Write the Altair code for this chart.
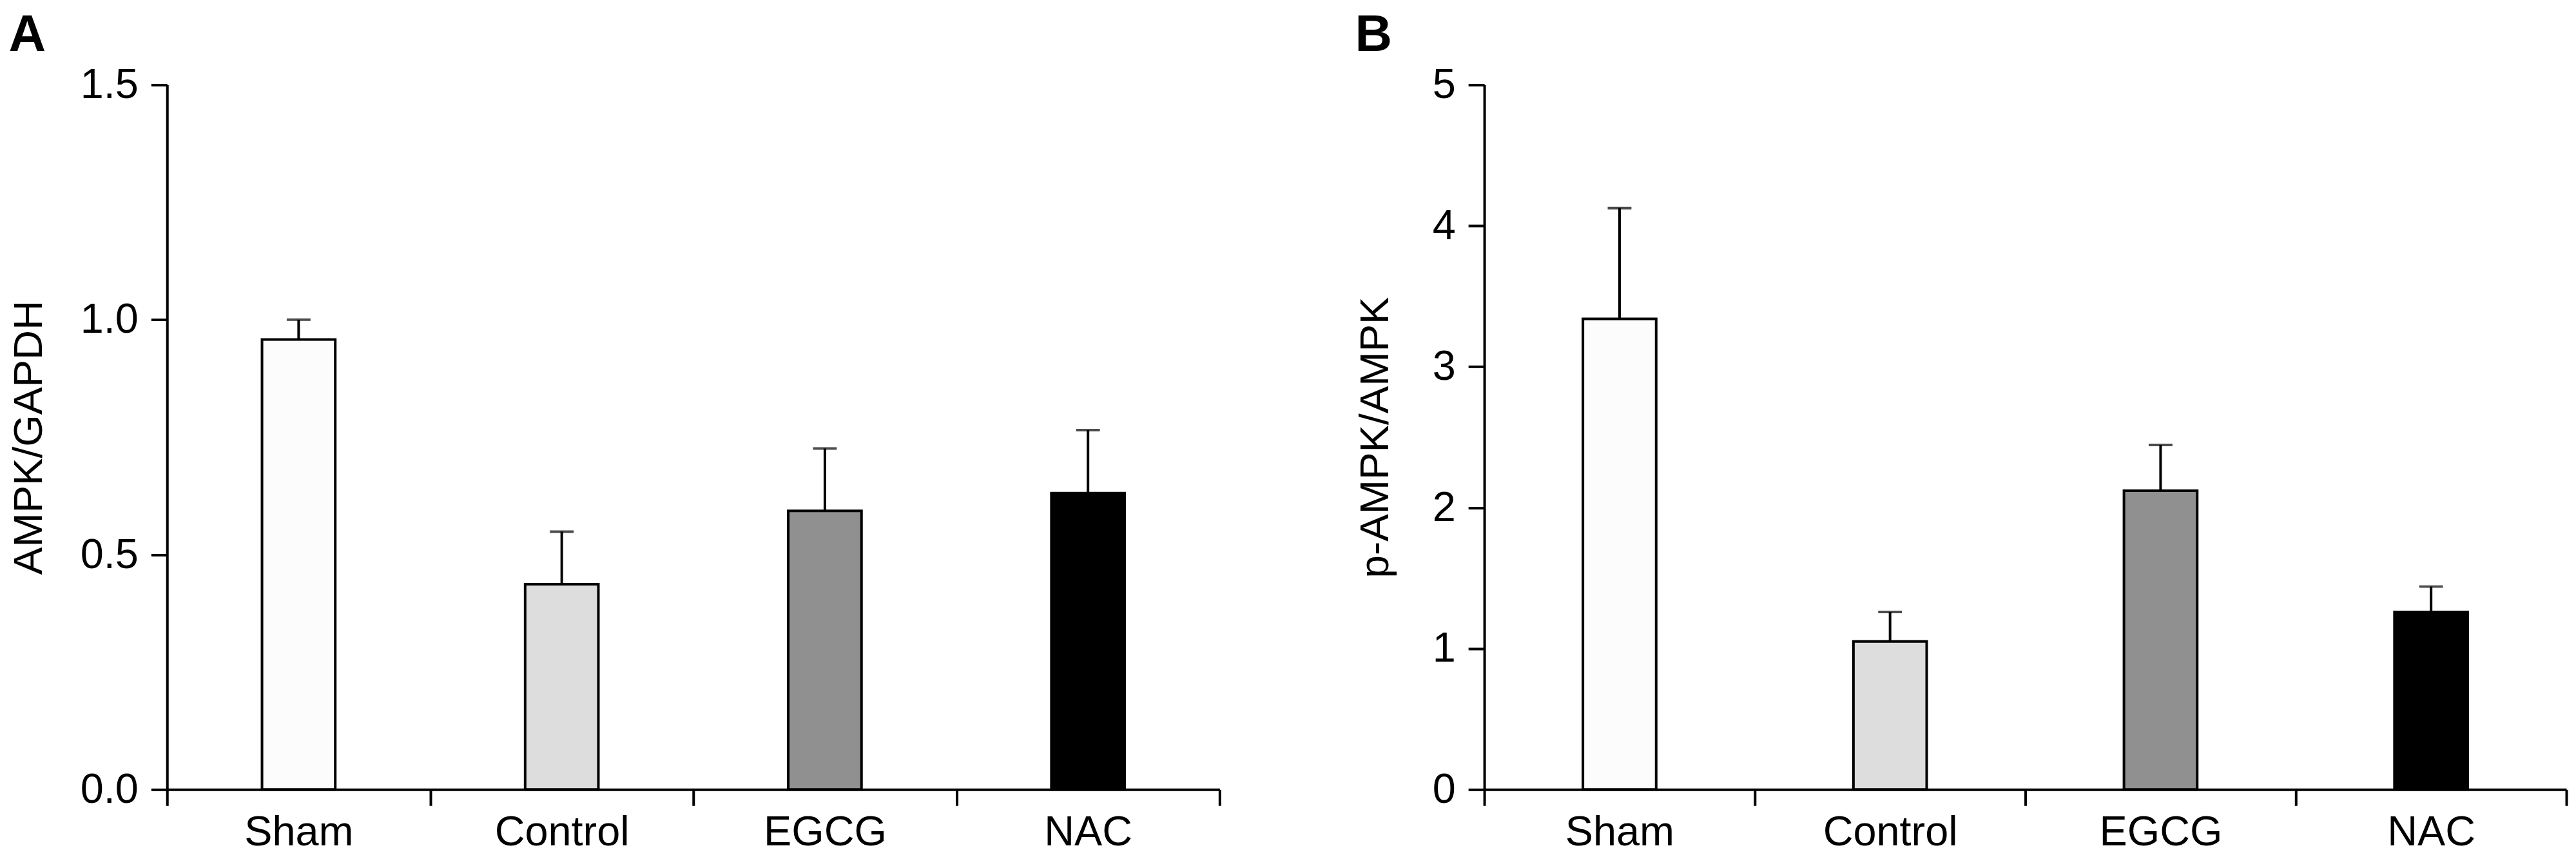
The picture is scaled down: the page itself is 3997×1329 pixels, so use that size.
import altair as alt
import pandas as pd

groups = ["Sham", "Control", "EGCG", "NAC"]
fills = ["#fcfcfc", "#dddddd", "#909090", "#000000"]

ampk_mean = [0.958, 0.437, 0.593, 0.631]
ampk_err = [0.042, 0.112, 0.133, 0.134]

pampk_mean = [3.34, 1.05, 2.12, 1.26]
pampk_err = [0.785, 0.21, 0.325, 0.18]

ticks_a = [0, 0.5, 1.0, 1.5]
ticks_b = [0, 1, 2, 3, 4, 5]

FONT = "Liberation Sans"
PLOT_H = 1096


def panel(means, errs, letter, ytitle, ymax, yvalues, yfmt, width, title_pad):
    df = pd.DataFrame({"group": groups, "mean": means, "err": errs})
    df["upper"] = df["mean"] + df["err"]
    x = alt.X(
        "group:N",
        sort=groups,
        scale=alt.Scale(paddingInner=0, paddingOuter=0),
        axis=alt.Axis(title=None, labelAngle=0, tickBand="extent",
                      tickSize=25, labelPadding=10, labelLimit=1000),
    )
    yscale = alt.Scale(domain=[0, ymax], nice=False, zero=True)
    base = alt.Chart(df)
    rule = base.mark_rule(color="black", strokeWidth=4).encode(
        x=x, y=alt.Y("mean:Q", scale=yscale), y2="upper:Q"
    )
    bars = base.mark_bar(size=114, stroke="black", strokeWidth=4).encode(
        x=x,
        y=alt.Y(
            "mean:Q",
            scale=yscale,
            axis=alt.Axis(title=ytitle, values=yvalues, format=yfmt, grid=False,
                          tickSize=25, labelPadding=20, titlePadding=title_pad,
                          labelLimit=1000),
        ),
        color=alt.Color("group:N", scale=alt.Scale(domain=groups, range=fills),
                        legend=None),
    )
    cap = base.mark_tick(color="black", thickness=4, size=37).encode(
        x=x, y=alt.Y("upper:Q", scale=yscale)
    )
    return alt.layer(rule, bars, cap).properties(
        width=width,
        height=PLOT_H,
        title=alt.TitleParams(letter, anchor="start", fontSize=80, fontWeight="bold",
                              font=FONT, color="black", offset=4),
    )


pa = panel(ampk_mean, ampk_err, "A", "AMPK/GAPDH", 1.5, ticks_a, ".1f", 1638, 47)
pb = panel(pampk_mean, pampk_err, "B", "p-AMPK/AMPK", 5, ticks_b, "d", 1684, 56)

chart = (
    alt.hconcat(pa, pb, spacing=412, bounds="flush")
    .configure(background="white")
    .configure_view(stroke=None)
    .configure_axis(
        domainColor="black", domainWidth=4, tickColor="black", tickWidth=4,
        labelFont=FONT, labelFontSize=65, labelColor="black",
        titleFont=FONT, titleFontSize=64, titleFontWeight="normal", titleColor="black",
    )
)

chart.save("out.html", embed_options={"renderer": "svg", "actions": False})
